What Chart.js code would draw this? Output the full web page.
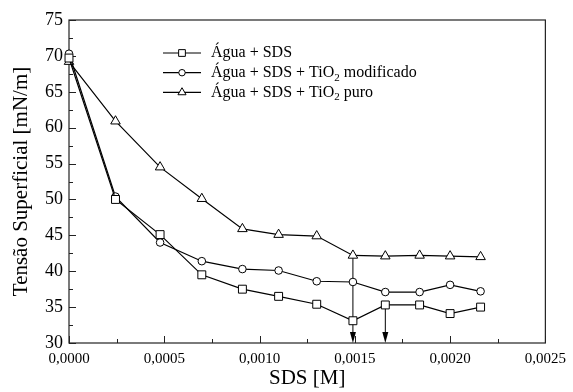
<!DOCTYPE html>
<html>
<head>
<meta charset="utf-8">
<script src="https://cdn.jsdelivr.net/npm/chart.js@4/dist/chart.umd.min.js"></script>
<style>
  html, body { margin: 0; padding: 0; background: #fff; }
  #wrap { width: 573px; height: 392px; }
</style>
</head>
<body>
<div id="wrap"><canvas id="grafTensao" width="573" height="392"></canvas></div>
<script>
// concentracao de SDS [M]
var sdsConc = [0, 0.000244, 0.000478, 0.000697, 0.00091, 0.0011, 0.0013, 0.00149, 0.00166, 0.00184, 0.002, 0.00216];
// tensao superficial [mN/m]
var aguaSDS = [69.7, 50.0, 45.1, 39.5, 37.5, 36.5, 35.4, 33.1, 35.3, 35.3, 34.1, 35.0];
var tio2Mod = [70.3, 50.4, 44.0, 41.4, 40.3, 40.1, 38.6, 38.5, 37.1, 37.1, 38.1, 37.2];
var tio2Puro = [69.2, 60.9, 54.5, 50.1, 45.9, 45.1, 44.9, 42.2, 42.1, 42.2, 42.1, 42.0];

var nomesSeries = ["Água + SDS", "Água + SDS + TiO₂ modificado", "Água + SDS + TiO₂ puro"];
var yTicks = [30, 35, 40, 45, 50, 55, 60, 65, 70, 75];
var xTicks = ["0,0000", "0,0005", "0,0010", "0,0015", "0,0020", "0,0025"];
// setas (cmc): indice do ponto e serie de onde sai a seta
var setas = [{idx: 7, serie: 2}, {idx: 8, serie: 0}];

var serif = "'Liberation Serif', 'Times New Roman', serif";

function pontos(vals){
    return vals.map(function(v, i){ return {x: sdsConc[i], y: v}; });
}

function serie(label, vals, estilo, raio){
    return {
        label: label,
        data: pontos(vals),
        borderColor: "#000",
        borderWidth: 1.2,
        backgroundColor: "#fff",
        pointStyle: estilo,
        pointRadius: raio,
        pointBorderColor: "#000",
        pointBackgroundColor: "#fff",
        pointBorderWidth: 1,
        tension: 0,
        fill: false,
        clip: false
    };
}

var moldura = {
    id: "moldura",
    beforeDatasetsDraw: function(chart){
        var ctx = chart.ctx, a = chart.chartArea;
        var sx = chart.scales.x, sy = chart.scales.y;
        ctx.save();
        ctx.strokeStyle = "#222";
        ctx.lineWidth = 1.2;
        ctx.strokeRect(a.left, a.top, a.right - a.left, a.bottom - a.top);

        // ticks internos
        ctx.lineWidth = 1;
        ctx.beginPath();
        for (var v = 0; v <= 0.0025 + 1e-9; v += 0.00025) {
            var px = Math.round(sx.getPixelForValue(v)) + 0.5;
            var maior = Math.abs(v / 0.0005 - Math.round(v / 0.0005)) < 1e-6;
            ctx.moveTo(px, a.bottom);
            ctx.lineTo(px, a.bottom - (maior ? 7 : 4));
        }
        for (var w = 30; w <= 75; w += 2.5) {
            var py = Math.round(sy.getPixelForValue(w)) + 0.5;
            var maiorY = (w % 5) === 0;
            ctx.moveTo(a.left, py);
            ctx.lineTo(a.left + (maiorY ? 7 : 4), py);
        }
        ctx.stroke();

        // setas
        var valores = [aguaSDS, tio2Mod, tio2Puro];
        ctx.strokeStyle = "#000";
        ctx.fillStyle = "#000";
        setas.forEach(function(s){
            var px = sx.getPixelForValue(sdsConc[s.idx]);
            var y0 = sy.getPixelForValue(valores[s.serie][s.idx]);
            ctx.beginPath();
            ctx.moveTo(px, y0);
            ctx.lineTo(px, a.bottom - 8);
            ctx.stroke();
            ctx.beginPath();
            ctx.moveTo(px, a.bottom);
            ctx.lineTo(px - 3, a.bottom - 11);
            ctx.lineTo(px + 3, a.bottom - 11);
            ctx.closePath();
            ctx.fill();
        });
        ctx.restore();
    },
    afterDatasetsDraw: function(chart){
        var ctx = chart.ctx;
        ctx.save();
        // legenda
        var lx = 163, ly = 53, dy = 19.7;
        chart.data.datasets.forEach(function(ds, i){
            var y = ly + i * dy;
            ctx.strokeStyle = "#000";
            ctx.lineWidth = 1.2;
            ctx.beginPath();
            ctx.moveTo(lx, y);
            ctx.lineTo(lx + 38, y);
            ctx.stroke();
            ctx.fillStyle = "#fff";
            ctx.strokeStyle = "#000";
            ctx.lineWidth = 1;
            Chart.helpers.drawPoint(ctx, {pointStyle: ds.pointStyle, radius: ds.pointRadius * 0.85, borderWidth: 1}, lx + 19, y);
            // texto com subscrito
            var tx = lx + 48;
            ctx.fillStyle = "#000";
            ctx.textBaseline = "middle";
            ctx.textAlign = "left";
            var partes = ds.label.split("₂");
            partes.forEach(function(p, k){
                ctx.font = "16px " + serif;
                ctx.fillText(p, tx, y);
                tx += ctx.measureText(p).width;
                if (k < partes.length - 1) {
                    ctx.font = "11px " + serif;
                    ctx.fillText("2", tx, y + 5);
                    tx += ctx.measureText("2").width;
                }
            });
        });
        ctx.restore();
    }
};

var ctx = document.getElementById("grafTensao").getContext("2d");
var grafico = new Chart(ctx, {
    type: "line",
    data: {
        datasets: [
            serie(nomesSeries[0], aguaSDS, "rect", 5.6),
            serie(nomesSeries[1], tio2Mod, "circle", 3.8),
            serie(nomesSeries[2], tio2Puro, "triangle", 5.5)
        ]
    },
    options: {
        responsive: false,
        animation: false,
        devicePixelRatio: 1,
        layout: {padding: {left: 0, top: 20, right: 23, bottom: 0}},
        plugins: {legend: {display: false}, tooltip: {enabled: false}},
        scales: {
            x: {
                type: "linear",
                min: 0,
                max: 0.0025,
                afterFit: function(s){ s.height = 49; },
                grid: {display: false, drawTicks: false},
                border: {display: false},
                ticks: {
                    stepSize: 0.0005,
                    padding: 7,
                    color: "#000",
                    font: {family: serif, size: 15},
                    maxRotation: 0,
                    callback: function(v){ return xTicks[Math.round(v / 0.0005)]; }
                },
                title: {
                    display: true,
                    text: "SDS [M]",
                    color: "#000",
                    font: {family: serif, size: 21},
                    padding: {top: 0, bottom: 1}
                }
            },
            y: {
                min: 30,
                max: 75,
                afterFit: function(s){ s.width = 69; },
                grid: {display: false, drawTicks: false},
                border: {display: false},
                ticks: {
                    stepSize: 5,
                    padding: 6,
                    color: "#000",
                    font: {family: serif, size: 18},
                    callback: function(v){ return yTicks.indexOf(v) >= 0 ? String(v) : ""; }
                },
                title: {
                    display: true,
                    text: "Tensão Superficial [mN/m]",
                    color: "#000",
                    font: {family: serif, size: 21},
                    padding: {top: 9, bottom: 0}
                }
            }
        }
    },
    plugins: [moldura]
});
</script>
</body>
</html>
